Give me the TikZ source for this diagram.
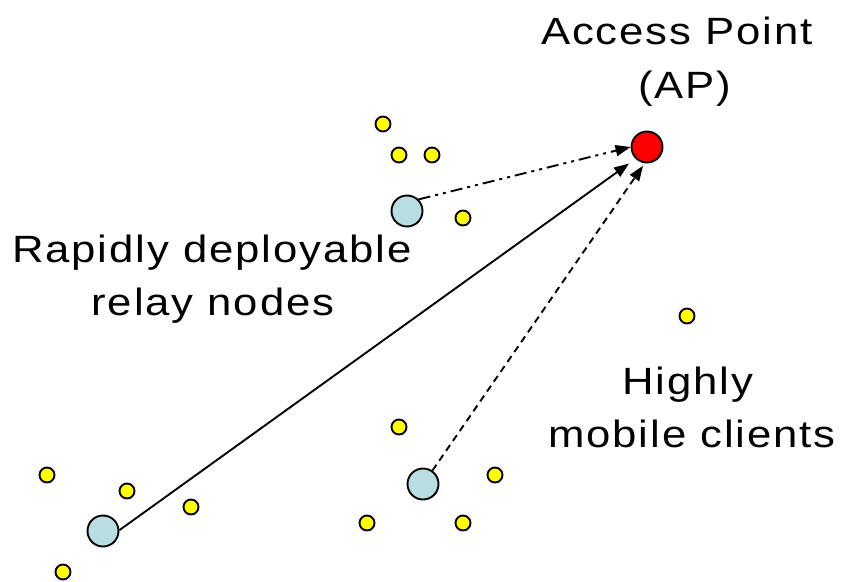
\documentclass[tikz,border=0pt]{standalone}
\usepackage{fontspec}
\setmainfont{Liberation Sans}[FakeStretch=1.15, LetterSpace=5]
\usetikzlibrary{arrows.meta}
\definecolor{clientyellow}{RGB}{255,255,0}
\definecolor{relayblue}{RGB}{185,222,226}
\definecolor{apred}{RGB}{255,0,0}
\tikzset{
  client/.style={circle, draw=black, line width=1.9pt, fill=clientyellow,
                 minimum size=15pt, inner sep=0pt},
  relay/.style={circle, draw=black, line width=1.9pt, fill=relayblue,
                minimum size=31pt, inner sep=0pt},
  accesspt/.style={circle, draw=black, line width=1.9pt, fill=apred,
                   minimum size=31pt, inner sep=0pt},
  label/.style={anchor=base, inner sep=0pt,
                font=\fontsize{38}{53}\selectfont},
  link/.style={line width=1.9pt,
               -{Triangle[length=15pt,width=11pt]}},
  dashdotdot/.style={dash pattern=on 12pt off 5pt on 3pt off 5pt on 3pt off 5pt},
  shortdash/.style={dash pattern=on 7pt off 5pt}
}
\begin{document}
\begin{tikzpicture}[x=1pt, y=-1pt]
  \useasboundingbox (0,0) rectangle (846,581);

  % access point
  \node[accesspt] (ap) at (647,147) {};

  % relay nodes
  \node[relay] (relayA) at (103,531) {};
  \node[relay] (relayB) at (423,484) {};
  \node[relay] (relayC) at (407,211) {};

  % mobile clients
  \node[client] (c1)  at (383,124) {};
  \node[client] (c2)  at (399,155) {};
  \node[client] (c3)  at (432,155) {};
  \node[client] (c4)  at (463,218) {};
  \node[client] (c5)  at (687,316) {};
  \node[client] (c6)  at (47,475) {};
  \node[client] (c7)  at (127,491) {};
  \node[client] (c8)  at (191,507) {};
  \node[client] (c9)  at (63,572) {};
  \node[client] (c10) at (399,427) {};
  \node[client] (c11) at (495,475) {};
  \node[client] (c12) at (367,523) {};
  \node[client] (c13) at (463,523) {};

  % links to the access point
  \draw[link] (relayA.3) -- (ap.226) [shorten >=8pt];
  \draw[link, shortdash] (relayB.55) -- (ap.262) [shorten >=3pt];
  \draw[link, dashdotdot] (relayC.45) -- (ap.180);

  % labels
  \node[label] (apA) at (677,44) {Access Point};
  \node[label] (apB) at (685,98) {(AP)};
  \node[label] (rlA) at (212,262) {Rapidly deployable};
  \node[label] (rlB) at (213,315) {relay nodes};
  \node[label] (mcA) at (688,394) {Highly};
  \node[label] (mcB) at (692,447) {mobile clients};
\end{tikzpicture}
\end{document}
